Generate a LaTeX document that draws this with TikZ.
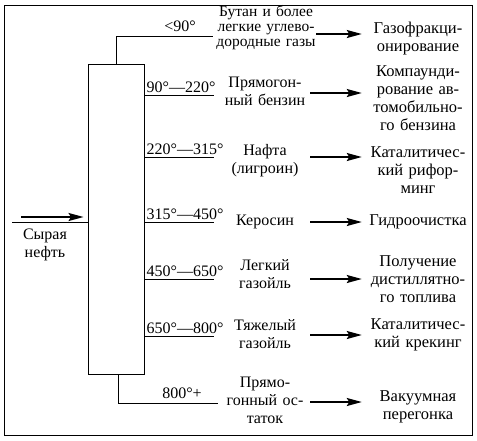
\documentclass[tikz,border=0pt]{standalone}
\usepackage{fontspec}
\setmainfont{Liberation Serif}
\usetikzlibrary{
    arrows.meta,
    positioning
}
\tikzset{
  txt/.style   = {align=center, inner sep=0pt,
                  font=\fontsize{16}{18}\selectfont},
  rtxt/.style  = {align=center, inner sep=0pt,
                  font=\fontsize{16.5}{18}\selectfont},
  stxt/.style  = {align=center, inner sep=0pt,
                  font=\fontsize{15.5}{15}\selectfont},
  temp/.style  = {anchor=south west, inner sep=1.5pt,
                  font=\fontsize{16}{18}\selectfont},
  arr/.style   = {-{Stealth[length=15pt,width=8pt,inset=2.5pt]}, line width=1.8pt},
  ln/.style    = {line width=0.9pt}
}

\begin{document}
\begin{tikzpicture}[x=1pt,y=-1pt]
    \useasboundingbox (0,0) rectangle (477,440);
    \draw[ln] (4,5) rectangle (472,435);

    % column
    \node[draw, ln, inner sep=0pt, minimum width=56pt, minimum height=310pt] (col) at (116,219) {};

    % crude oil in
    \coordinate (in1) at (21,217);
    \coordinate (in2) at (12,222);
    \draw[arr] (in1) -- ([xshift=-4pt]in1 -| col.west);
    \draw[ln] (in2) -- (in2 -| col.west);
    \node[txt] (oil) at (45,245) {Сырая\\нефть};

    % side cuts
    \coordinate (c1) at (213,36);
    \coordinate (c2) at (214,95);
    \coordinate (c3) at (214,157);
    \coordinate (c4) at (214,222);
    \coordinate (c5) at (214,279);
    \coordinate (c6) at (214,336);
    \coordinate (c7) at (218,403);

    \draw[ln] (col.north) |- (c1);
    \draw[ln] (c2 -| col.east) -- (c2);
    \draw[ln] (c3 -| col.east) -- (c3);
    \draw[ln] (c4 -| col.east) -- (c4);
    \draw[ln] (c5 -| col.east) -- (c5);
    \draw[ln] (c6 -| col.east) -- (c6);
    \draw[ln] ([xshift=2pt]col.south) |- (c7);

    \node[temp, anchor=south] (t1) at (180,33) {<90°};
    \node[temp] (t2) at (145,94) {90°—220°};
    \node[temp] (t3) at (145,156) {220°—315°};
    \node[temp] (t4) at (145,221) {315°—450°};
    \node[temp] (t5) at (145,278) {450°—650°};
    \node[temp] (t6) at (145,335) {650°—800°};
    \node[temp, anchor=south] (t7) at (182,400) {800°+};

    % fractions
    \node[stxt, text width=100pt] (m1) at (266,28) {Бутан и более\\легкие углево-\\дородные газы};
    \node[txt, text width=90pt] (m2) at (265,91) {Прямогон-\\ный бензин};
    \node[txt, text width=90pt] (m3) at (265,161) {Нафта\\(лигроин)};
    \node[txt, text width=90pt] (m4) at (265,222) {Керосин};
    \node[txt, text width=90pt] (m5) at (265,274) {Легкий\\газойль};
    \node[txt, text width=90pt] (m6) at (265,334) {Тяжелый\\газойль};
    \node[txt, text width=90pt] (m7) at (265,400) {Прямо-\\гонный ос-\\таток};

    % processes
    \node[rtxt, text width=112pt] (r1) at (418,39) {Газофракци-\\онирование};
    \node[rtxt, text width=112pt] (r2) at (418,98) {Компаунди-\\рование ав-\\томобильно-\\го бензина};
    \node[rtxt, text width=112pt] (r3) at (418,170) {Каталитичес-\\кий рифор-\\минг};
    \node[rtxt, text width=112pt] (r4) at (418,222) {Гидроочистка};
    \node[rtxt, text width=112pt] (r5) at (418,279) {Получение\\дистиллятно-\\го топлива};
    \node[rtxt, text width=112pt] (r6) at (418,335) {Каталитичес-\\кий крекинг};
    \node[rtxt, text width=112pt] (r7) at (418,407) {Вакуумная\\перегонка};

    \coordinate (a1) at (0,34);
    \coordinate (a2) at (0,93);
    \coordinate (a3) at (0,157);
    \coordinate (a4) at (0,222);
    \coordinate (a5) at (0,279);
    \coordinate (a6) at (0,335);
    \coordinate (a7) at (0,402);
    \draw[arr] (a1 -| m1.east) -- (a1 -| r1.west);
    \draw[arr] (a2 -| m2.east) -- (a2 -| r2.west);
    \draw[arr] (a3 -| m3.east) -- (a3 -| r3.west);
    \draw[arr] (a4 -| m4.east) -- (a4 -| r4.west);
    \draw[arr] (a5 -| m5.east) -- (a5 -| r5.west);
    \draw[arr] (a6 -| m6.east) -- (a6 -| r6.west);
    \draw[arr] (a7 -| m7.east) -- (a7 -| r7.west);
\end{tikzpicture}
\end{document}
